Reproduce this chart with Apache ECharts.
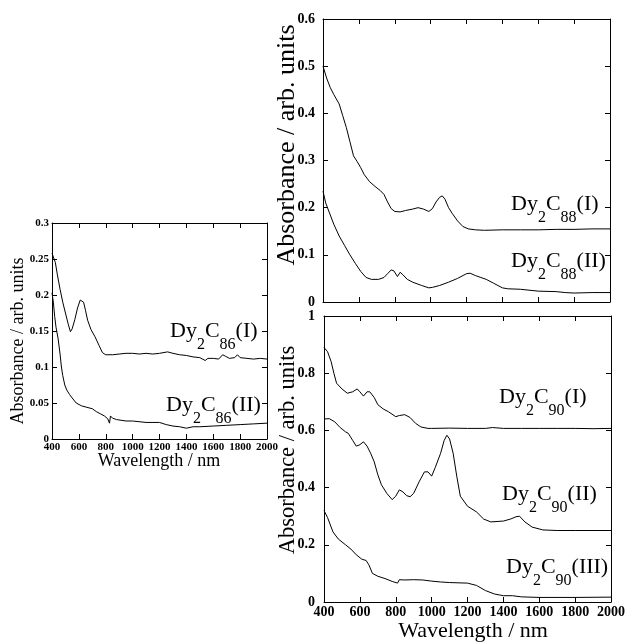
<!DOCTYPE html>
<html><head><meta charset="utf-8">
<script src="https://cdn.jsdelivr.net/npm/echarts@6/dist/echarts.min.js"></script>
<style>html,body{margin:0;padding:0;background:#fff}#c{width:628px;height:644px}</style>
</head><body><div id="c"></div>
<script>
// ---- data (wavelength nm, absorbance) ----
const wl86_1 = [400,410,425,440,460,480,500,520,537,550,570,590,610,622,635,650,665,690,720,750,775,800,850,900,950,1000,1050,1100,1150,1200,1260,1300,1350,1400,1450,1500,1540,1560,1600,1640,1670,1690,1720,1760,1780,1800,1850,1900,1950,2000];
const ab86_1 = [0.258,0.256,0.245,0.228,0.208,0.19,0.175,0.16,0.149,0.153,0.166,0.182,0.193,0.195,0.19,0.178,0.165,0.152,0.142,0.13,0.12,0.117,0.117,0.118,0.119,0.119,0.118,0.119,0.118,0.119,0.121,0.119,0.117,0.116,0.114,0.113,0.109,0.112,0.112,0.111,0.117,0.115,0.112,0.113,0.117,0.113,0.112,0.111,0.112,0.111];
const wl86_2 = [400,410,420,430,445,460,470,480,495,510,530,550,580,620,660,700,730,760,790,815,828,835,850,880,950,1000,1100,1200,1250,1300,1350,1400,1450,1500,1600,1700,1800,1900,2000];
const ab86_2 = [0.203,0.19,0.17,0.155,0.14,0.118,0.1,0.088,0.075,0.068,0.062,0.057,0.05,0.046,0.044,0.042,0.038,0.035,0.032,0.028,0.022,0.032,0.029,0.027,0.025,0.025,0.023,0.023,0.02,0.018,0.017,0.015,0.017,0.017,0.018,0.019,0.02,0.021,0.022];

const wl88_1 = [400,420,440,460,490,510,530,550,570,590,610,630,660,690,720,740,760,780,800,830,860,900,930,960,990,1010,1030,1050,1065,1080,1100,1120,1150,1180,1210,1250,1300,1400,1500,1600,1700,1800,1900,2000];
const ab88_1 = [0.5,0.475,0.455,0.44,0.42,0.395,0.37,0.34,0.31,0.298,0.285,0.27,0.255,0.245,0.236,0.228,0.212,0.198,0.192,0.191,0.194,0.197,0.2,0.197,0.192,0.198,0.212,0.222,0.225,0.218,0.2,0.188,0.172,0.16,0.155,0.153,0.152,0.153,0.153,0.153,0.154,0.154,0.155,0.155];
const wl88_2 = [400,415,430,460,490,520,550,580,610,640,670,710,740,760,780,795,815,822,830,845,870,900,950,990,1010,1050,1100,1150,1200,1220,1250,1280,1310,1350,1400,1430,1500,1600,1700,1750,1800,1900,2000];
const ab88_2 = [0.235,0.21,0.195,0.165,0.14,0.12,0.1,0.082,0.065,0.052,0.048,0.048,0.052,0.06,0.068,0.066,0.054,0.052,0.063,0.058,0.048,0.042,0.035,0.03,0.031,0.035,0.042,0.05,0.06,0.061,0.056,0.052,0.048,0.04,0.03,0.028,0.027,0.023,0.022,0.02,0.019,0.02,0.02];

const wl90_1 = [400,420,440,455,470,500,530,560,585,600,620,640,655,680,700,730,760,800,820,850,880,910,940,980,1000,1100,1200,1300,1340,1400,1500,1600,1700,1800,1900,2000];
const ab90_1 = [0.89,0.875,0.84,0.8,0.765,0.745,0.73,0.735,0.745,0.735,0.72,0.735,0.735,0.715,0.69,0.675,0.665,0.648,0.652,0.655,0.645,0.625,0.612,0.607,0.607,0.608,0.607,0.607,0.61,0.607,0.607,0.607,0.607,0.607,0.606,0.607];
const wl90_2 = [400,430,460,490,520,535,545,560,580,600,620,640,660,680,700,720,750,780,800,820,840,860,880,900,930,960,980,1000,1020,1050,1070,1085,1100,1120,1140,1160,1200,1250,1290,1330,1400,1440,1470,1490,1520,1560,1620,1700,1800,2000];
const ab90_2 = [0.64,0.641,0.63,0.61,0.595,0.59,0.58,0.565,0.545,0.55,0.56,0.545,0.52,0.49,0.445,0.41,0.38,0.358,0.37,0.392,0.385,0.372,0.368,0.38,0.42,0.455,0.455,0.44,0.47,0.52,0.565,0.583,0.57,0.52,0.44,0.37,0.335,0.315,0.29,0.28,0.283,0.29,0.298,0.3,0.28,0.262,0.252,0.25,0.25,0.25];
const wl90_3 = [400,420,450,480,520,550,580,610,635,650,670,700,740,780,810,820,850,900,950,1000,1050,1100,1200,1250,1300,1350,1400,1450,1500,1600,1800,2000];
const ab90_3 = [0.32,0.295,0.245,0.22,0.2,0.185,0.165,0.15,0.145,0.13,0.1,0.09,0.082,0.072,0.066,0.078,0.077,0.078,0.077,0.073,0.07,0.068,0.066,0.058,0.04,0.028,0.022,0.022,0.018,0.016,0.016,0.017];

const yTitle = 'Absorbance / arb. units';
const xTitle = 'Wavelength / nm';

function zip(a,b){return a.map((v,i)=>[v,b[i]]);}
const fmt = v => String(+(+v).toFixed(3));

const FONT = 'Liberation Serif';
const chart = echarts.init(document.getElementById('c'), null, {renderer:'canvas'});

function xAx(grid, pos, labels, fs){
  return {type:'value', gridIndex:grid, position:pos, min:400, max:2000, interval:200,
    axisLine:{show:true, onZero:false, lineStyle:{color:'#000', width:1}},
    axisTick:{show:true, inside:true, length:5, lineStyle:{color:'#000'}},
    splitLine:{show:false},
    axisLabel:{show:labels, formatter:fmt, color:'#000', fontFamily:FONT, fontWeight:'bold', fontSize:fs, margin:3}};
}
function yAx(grid, pos, max, interval, labels, fs, margin){
  return {type:'value', gridIndex:grid, position:pos, min:0, max:max, interval:interval,
    axisLine:{show:true, onZero:false, lineStyle:{color:'#000', width:1}},
    axisTick:{show:true, inside:true, length:5, lineStyle:{color:'#000'}},
    splitLine:{show:false},
    axisLabel:{show:labels, formatter:fmt, color:'#000', fontFamily:FONT, fontWeight:'bold', fontSize:fs, margin:margin}};
}

const xAxes = [
  xAx(0,'bottom',true,11),
  xAx(0,'top',false,11),
  xAx(1,'bottom',false,14),
  xAx(1,'top',false,14),
  xAx(2,'bottom',true,14),
  xAx(2,'top',false,14)
];
const yAxes = [
  yAx(0,'left',0.3,0.05,true,11,3),
  yAx(0,'right',0.3,0.05,false,11,3),
  yAx(1,'left',0.6,0.1,true,14,8),
  yAx(1,'right',0.6,0.1,false,14,8),
  yAx(2,'left',1,0.2,true,14,9),
  yAx(2,'right',1,0.2,false,14,9)
];

function line(data, xi, yi){
  return {type:'line', data:data, xAxisIndex:xi, yAxisIndex:yi, showSymbol:false, symbol:'none',
    lineStyle:{color:'#000', width:1}, smooth:false, animation:false};
}

const rich = {
  a:{fontFamily:FONT, fontSize:22, color:'#000', lineHeight:24, verticalAlign:'top'},
  s:{fontFamily:FONT, fontSize:16, color:'#000', lineHeight:16, padding:[17,0,0,0], verticalAlign:'top'}
};
function lbl(x, y, sub, roman){
  return {type:'text', left:x, top:y, silent:true,
    style:{text:'{a|Dy}{s|2}{a|C}{s|'+sub+'}{a|('+roman+')}', rich:rich}};
}
function ytitle(cx, cy, fs){
  return {type:'text', x:cx, y:cy, rotation:Math.PI/2, silent:true,
    style:{text:yTitle, fontFamily:FONT, fontSize:fs, fill:'#000', align:'center', verticalAlign:'middle'}};
}
function xtitle(cx, cy, fs){
  return {type:'text', x:cx, y:cy, silent:true,
    style:{text:xTitle, fontFamily:FONT, fontSize:fs, fill:'#000', align:'center', verticalAlign:'middle'}};
}

chart.setOption({
  backgroundColor:'#fff',
  animation:false,
  grid:[
    {left:52, top:223, width:215, height:216},
    {left:323, top:19, width:287, height:283},
    {left:324, top:316, width:287, height:286}
  ],
  xAxis:xAxes,
  yAxis:yAxes,
  series:[
    line(zip(wl86_1,ab86_1),0,0),
    line(zip(wl86_2,ab86_2),0,0),
    line(zip(wl88_1,ab88_1),2,2),
    line(zip(wl88_2,ab88_2),2,2),
    line(zip(wl90_1,ab90_1),4,4),
    line(zip(wl90_2,ab90_2),4,4),
    line(zip(wl90_3,ab90_3),4,4)
  ],
  graphic:[
    lbl(170,320,'86','I'),
    lbl(166,394,'86','II'),
    lbl(511,193,'88','I'),
    lbl(511,250,'88','II'),
    lbl(499,386,'90','I'),
    lbl(502,483,'90','II'),
    lbl(506,556,'90','III'),
    ytitle(18,341,18),
    ytitle(287,145,26),
    ytitle(288,450,22.5),
    xtitle(159,461,18),
    xtitle(473,631,22)
  ]
});
</script></body></html>
